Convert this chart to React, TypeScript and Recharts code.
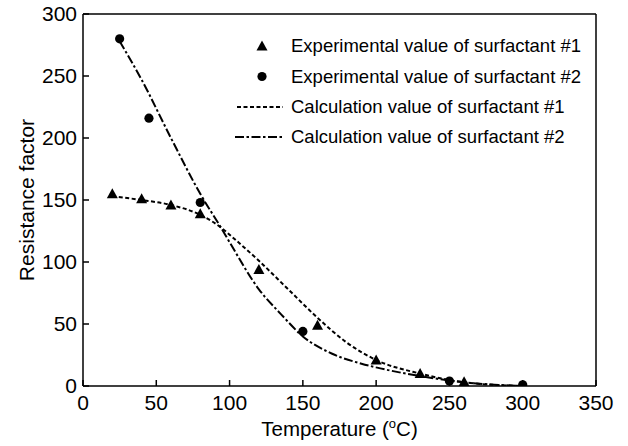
import { ComposedChart, Line, Scatter, XAxis, YAxis, ReferenceLine, Legend } from 'recharts';

const FONT = '"Liberation Sans", Arial, Helvetica, sans-serif';

// experimental points
const expTemp1 = [20, 40, 60, 80, 120, 160, 200, 230, 260, 300];
const expValue1 = [155, 151, 146, 139, 94, 49, 21, 10, 3.5, 0.5];
const expTemp2 = [25, 45, 80, 150, 250, 300];
const expValue2 = [280, 216, 148, 44, 4, 1];

// calculated curves
const calcTemp1 = [20, 40, 60, 80, 95, 100, 120, 140, 160, 180, 200, 230, 260, 300];
const calcValue1 = [153, 150, 146, 138, 127, 122, 101, 78, 55, 35, 21, 10, 3, 0];
const calcTemp2 = [25, 40, 60, 80, 95, 100, 120, 135, 150, 170, 190, 200, 230, 260, 300];
const calcValue2 = [278, 247, 200, 155, 126, 116, 78, 58, 40, 26, 18, 15, 8, 3, 0];

const xTicks = [0, 50, 100, 150, 200, 250, 300, 350];
const yTicks = [0, 50, 100, 150, 200, 250, 300];

const legendLabels = [
  'Experimental value of surfactant #1',
  'Experimental value of surfactant #2',
  'Calculation value of surfactant #1',
  'Calculation value of surfactant #2',
];

const DASH_1 = '4 2.5';
const DASH_2 = '9 2.5 2.5 2.5';

const toPoints = (xs: number[], ys: number[]) => xs.map((x, i) => ({ x, y: ys[i] }));

const exp1 = toPoints(expTemp1, expValue1);
const exp2 = toPoints(expTemp2, expValue2);
const calc1 = toPoints(calcTemp1, calcValue1);
const calc2 = toPoints(calcTemp2, calcValue2);

const Triangle = (props: any) => {
  const { cx, cy } = props;
  return <polygon points={`${cx},${cy - 5.5} ${cx - 5.5},${cy + 4.5} ${cx + 5.5},${cy + 4.5}`} fill="#000" />;
};

const Dot = (props: any) => <circle cx={props.cx} cy={props.cy} r={4.6} fill="#000" />;

const XTitle = (props: any) => {
  const { x, y, width } = props.viewBox;
  return (
    <text x={x + width / 2} y={y + 50} textAnchor="middle" fontSize={20.5} fontFamily={FONT} fill="#000">
      <tspan>Temperature (</tspan>
      <tspan dy={-8} fontSize={13}>o</tspan>
      <tspan dy={8}>C)</tspan>
    </text>
  );
};

const YTitle = (props: any) => {
  const { y, height } = props.viewBox;
  const cy = y + height / 2;
  return (
    <text x={34} y={cy} transform={`rotate(-90, 34, ${cy})`} textAnchor="middle" fontSize={21} fontFamily={FONT} fill="#000">
      Resistance factor
    </text>
  );
};

const renderLegend = () => {
  const rows = [18, 48.5, 79, 109];
  return (
    <svg width={370} height={122} style={{ display: 'block' }}>
      <polygon points={`32,${rows[0] - 5.5} 26.5,${rows[0] + 4.5} 37.5,${rows[0] + 4.5}`} fill="#000" />
      <circle cx={32} cy={rows[1]} r={4.6} fill="#000" />
      <line x1={7} x2={53} y1={rows[2]} y2={rows[2]} stroke="#000" strokeWidth={2} strokeDasharray={DASH_1} />
      <line x1={5} x2={53} y1={rows[3]} y2={rows[3]} stroke="#000" strokeWidth={2} strokeDasharray={DASH_2} />
      {legendLabels.map((t, i) => (
        <text key={t} x={61} y={rows[i]} dy="0.35em" fontSize={18.5} fontFamily={FONT} fill="#000">
          {t}
        </text>
      ))}
    </svg>
  );
};

export default function App() {
  return (
    <div style={{ position: 'absolute', left: 0, top: 0, background: '#fff' }}>
      <ComposedChart width={628} height={446} margin={{ top: 14, right: 32, bottom: 0, left: 0 }}>
        <XAxis
          type="number"
          dataKey="x"
          domain={[0, 350]}
          ticks={xTicks}
          allowDataOverflow
          height={60}
          tickSize={-6}
          tickMargin={15}
          axisLine={{ stroke: '#000', strokeWidth: 1.5 }}
          tickLine={{ stroke: '#000', strokeWidth: 1.5 }}
          tick={{ fill: '#000', fontSize: 21, fontFamily: FONT }}
          label={<XTitle />}
        />
        <YAxis
          type="number"
          dataKey="y"
          domain={[0, 300]}
          ticks={yTicks}
          allowDataOverflow
          width={83}
          tickSize={-6}
          tickMargin={12}
          axisLine={{ stroke: '#000', strokeWidth: 1.5 }}
          tickLine={{ stroke: '#000', strokeWidth: 1.5 }}
          tick={{ fill: '#000', fontSize: 21, fontFamily: FONT }}
          label={<YTitle />}
        />
        <ReferenceLine y={300} stroke="#000" strokeWidth={1.5} />
        <ReferenceLine x={350} stroke="#000" strokeWidth={1.5} />
        <Line data={calc1} dataKey="y" type="monotone" stroke="#000" strokeWidth={2} strokeDasharray={DASH_1} dot={false} activeDot={false} isAnimationActive={false} />
        <Line data={calc2} dataKey="y" type="monotone" stroke="#000" strokeWidth={2} strokeDasharray={DASH_2} dot={false} activeDot={false} isAnimationActive={false} />
        <Scatter data={exp1} dataKey="y" shape={Triangle} isAnimationActive={false} />
        <Scatter data={exp2} dataKey="y" shape={Dot} isAnimationActive={false} />
        <Legend
          layout="horizontal"
          align="center"
          verticalAlign="middle"
          content={renderLegend}
          wrapperStyle={{ left: 230, top: 28, width: 370, height: 122 }}
        />
      </ComposedChart>
    </div>
  );
}
